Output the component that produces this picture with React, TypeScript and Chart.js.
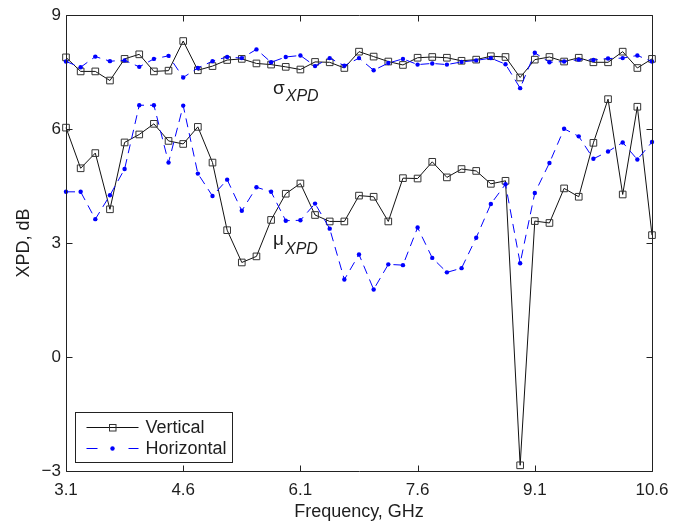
import React, { useEffect, useRef } from "react";
import { Chart, registerables } from "chart.js";

Chart.register(...registerables);

// ---------------- data ----------------
const FREQ_GHZ = [
  3.1, 3.2875, 3.475, 3.6625, 3.85, 4.0375, 4.225, 4.4125, 4.6, 4.7875,
  4.975, 5.1625, 5.35, 5.5375, 5.725, 5.9125, 6.1, 6.2875, 6.475, 6.6625,
  6.85, 7.0375, 7.225, 7.4125, 7.6, 7.7875, 7.975, 8.1625, 8.35, 8.5375,
  8.725, 8.9125, 9.1, 9.2875, 9.475, 9.6625, 9.85, 10.0375, 10.225, 10.4125,
  10.6,
];

const SIGMA_VERTICAL = [
  7.89, 7.52, 7.52, 7.28, 7.85, 7.97, 7.52, 7.54, 8.32, 7.55,
  7.66, 7.82, 7.85, 7.73, 7.7, 7.64, 7.57, 7.77, 7.76, 7.61,
  8.04, 7.91, 7.78, 7.69, 7.88, 7.9, 7.88, 7.8, 7.83, 7.92,
  7.9, 7.36, 7.83, 7.9, 7.78, 7.88, 7.76, 7.76, 8.04, 7.61,
  7.85,
];

const SIGMA_HORIZONTAL = [
  7.78, 7.63, 7.91, 7.79, 7.81, 7.64, 7.85, 7.93, 7.36, 7.61,
  7.79, 7.9, 7.87, 8.1, 7.76, 7.9, 7.94, 7.66, 7.87, 7.67,
  7.87, 7.55, 7.74, 7.85, 7.7, 7.73, 7.7, 7.77, 7.81, 7.87,
  7.71, 7.08, 8.01, 7.76, 7.78, 7.83, 7.82, 7.86, 7.87, 7.94,
  7.78,
];

const MU_VERTICAL = [
  6.04, 4.97, 5.37, 3.89, 5.65, 5.86, 6.14, 5.69, 5.61, 6.06,
  5.12, 3.34, 2.49, 2.65, 3.61, 4.3, 4.57, 3.74, 3.57, 3.57,
  4.25, 4.22, 3.57, 4.71, 4.7, 5.14, 4.73, 4.95, 4.9, 4.56,
  4.64, -2.85, 3.58, 3.53, 4.44, 4.22, 5.64, 6.79, 4.28, 6.59,
  3.21,
];

const MU_HORIZONTAL = [
  4.35, 4.35, 3.63, 4.26, 4.95, 6.63, 6.63, 5.12, 6.62, 4.83,
  4.24, 4.67, 3.85, 4.47, 4.35, 3.59, 3.6, 4.04, 3.38, 2.04,
  2.7, 1.78, 2.44, 2.42, 3.41, 2.61, 2.23, 2.34, 3.14, 4.03,
  4.55, 2.47, 4.32, 5.11, 6.01, 5.81, 5.22, 5.41, 5.65, 5.2,
  5.66,
];

const X_TICKS = [3.1, 4.6, 6.1, 7.6, 9.1, 10.6];
const Y_TICKS = [-3, 0, 3, 6, 9];
const LEGEND_LABELS = ["Vertical", "Horizontal"];
const X_TITLE = "Frequency, GHz";
const Y_TITLE = "XPD, dB";
const SIGMA_LABEL = ["σ", "XPD"];
const MU_LABEL = ["μ", "XPD"];

// ---------------- styles ----------------
const FONT = '"Liberation Sans", Arial, Helvetica, sans-serif';
const TEXT = "#1e1e1e";
const BLACK_LINE = "#111111";
const SQUARE = "#333333";
const BLUE = "#0000ff";
const DASH = [9, 6];

const toXY = (ys: number[]) => FREQ_GHZ.map((f, i) => ({ x: f, y: ys[i] }));

const frame = {
  id: "frame",
  afterDatasetsDraw(chart: any) {
    const { ctx, chartArea: a, scales } = chart;
    const xs = scales.x;
    const ys = scales.y;
    ctx.save();

    // axes box and inward ticks
    ctx.strokeStyle = "#222";
    ctx.lineWidth = 1;
    ctx.setLineDash([]);
    const L = Math.round(a.left) + 0.5;
    const R = Math.round(a.right) + 0.5;
    const T = Math.round(a.top) + 0.5;
    const B = Math.round(a.bottom) + 0.5;
    ctx.beginPath();
    ctx.rect(L, T, R - L, B - T);
    const tl = 6;
    for (const v of X_TICKS) {
      const px = Math.round(xs.getPixelForValue(v)) + 0.5;
      ctx.moveTo(px, B);
      ctx.lineTo(px, B - tl);
      ctx.moveTo(px, T);
      ctx.lineTo(px, T + tl);
    }
    for (const v of Y_TICKS) {
      const py = Math.round(ys.getPixelForValue(v)) + 0.5;
      ctx.moveTo(L, py);
      ctx.lineTo(L + tl, py);
      ctx.moveTo(R, py);
      ctx.lineTo(R - tl, py);
    }
    ctx.stroke();

    // annotations (sigma / mu with italic subscript)
    const drawSub = (label: string[], xv: number, yv: number, dy: number) => {
      const px = xs.getPixelForValue(xv);
      const py = ys.getPixelForValue(yv);
      ctx.fillStyle = TEXT;
      ctx.textAlign = "left";
      ctx.textBaseline = "alphabetic";
      ctx.font = `19px ${FONT}`;
      ctx.fillText(label[0], px, py);
      const w = ctx.measureText(label[0]).width;
      ctx.font = `italic 16px ${FONT}`;
      ctx.fillText(label[1], px + w + 1, py + dy);
    };
    drawSub(SIGMA_LABEL, 5.75, 6.92, 7);
    drawSub(MU_LABEL, 5.75, 2.94, 9);

    // legend
    const bx = Math.round(a.left) + 9.5;
    const bw = 157;
    const bh = 50;
    const by = Math.round(a.bottom) - 59 + 0.5;
    ctx.fillStyle = "#ffffff";
    ctx.fillRect(bx, by, bw, bh);
    ctx.strokeStyle = "#222";
    ctx.lineWidth = 1;
    ctx.strokeRect(bx, by, bw, bh);

    const x0 = bx + 11;
    const x1 = bx + 63;
    const xm = bx + 37;
    const r1 = by + 15;
    const r2 = by + 36;

    // Vertical sample
    ctx.beginPath();
    ctx.strokeStyle = BLACK_LINE;
    ctx.moveTo(x0, r1);
    ctx.lineTo(x1, r1);
    ctx.stroke();
    ctx.strokeStyle = SQUARE;
    ctx.strokeRect(xm - 3, r1 - 3, 6.5, 6.5);

    // Horizontal sample
    ctx.beginPath();
    ctx.strokeStyle = BLUE;
    ctx.setLineDash([11, 31]);
    ctx.moveTo(x0, r2);
    ctx.lineTo(x1, r2);
    ctx.stroke();
    ctx.setLineDash([]);
    ctx.beginPath();
    ctx.fillStyle = BLUE;
    ctx.arc(xm, r2, 2.2, 0, Math.PI * 2);
    ctx.fill();

    ctx.fillStyle = TEXT;
    ctx.font = `18px ${FONT}`;
    ctx.textAlign = "left";
    ctx.textBaseline = "middle";
    ctx.fillText(LEGEND_LABELS[0], bx + 70, r1 + 1);
    ctx.fillText(LEGEND_LABELS[1], bx + 70, r2 + 1);

    ctx.restore();
  },
};

export default function App() {
  const ref = useRef<HTMLCanvasElement | null>(null);

  useEffect(() => {
    if (!ref.current) return;
    const horizontalStyle = {
      borderColor: BLUE,
      borderWidth: 1,
      borderDash: DASH,
      pointStyle: "circle",
      pointRadius: 2.2,
      pointBorderWidth: 0,
      pointBackgroundColor: BLUE,
      pointBorderColor: BLUE,
      tension: 0,
      clip: false as any,
    };
    const verticalStyle = {
      borderColor: BLACK_LINE,
      borderWidth: 1,
      pointStyle: "rect",
      pointRadius: 4.7,
      pointBorderWidth: 1,
      pointBackgroundColor: "rgba(0,0,0,0)",
      pointBorderColor: SQUARE,
      tension: 0,
      clip: false as any,
    };
    const chart = new Chart(ref.current, {
      type: "line",
      data: {
        datasets: [
          { label: "Horizontal σ", data: toXY(SIGMA_HORIZONTAL), ...horizontalStyle },
          { label: "Horizontal μ", data: toXY(MU_HORIZONTAL), ...horizontalStyle },
          { label: "Vertical σ", data: toXY(SIGMA_VERTICAL), ...verticalStyle },
          { label: "Vertical μ", data: toXY(MU_VERTICAL), ...verticalStyle },
        ] as any,
      },
      options: {
        animation: false,
        responsive: false,
        devicePixelRatio: 1,
        events: [],
        layout: { padding: { top: 10, right: 35, left: 0, bottom: 0 } },
        plugins: {
          legend: { display: false },
          tooltip: { enabled: false },
        },
        scales: {
          x: {
            type: "linear",
            min: 3.1,
            max: 10.6,
            afterBuildTicks: (s: any) => {
              s.ticks = X_TICKS.map((v) => ({ value: v }));
            },
            afterFit: (s: any) => {
              s.height = 54;
            },
            grid: { display: false, drawTicks: false },
            border: { display: false },
            ticks: {
              font: { family: FONT, size: 17 },
              color: TEXT,
              padding: 9,
              maxRotation: 0,
              autoSkip: false,
              callback: (v: any) => Number(v).toFixed(1),
            },
            title: {
              display: true,
              text: X_TITLE,
              font: { family: FONT, size: 18 },
              color: TEXT,
              padding: { top: 0, bottom: 2 },
            },
          },
          y: {
            type: "linear",
            min: -3,
            max: 9,
            afterBuildTicks: (s: any) => {
              s.ticks = Y_TICKS.map((v) => ({ value: v }));
            },
            afterFit: (s: any) => {
              s.width = 66;
            },
            grid: { display: false, drawTicks: false },
            border: { display: false },
            ticks: {
              font: { family: FONT, size: 17 },
              color: TEXT,
              padding: 5,
              autoSkip: false,
              callback: (v: any) => (Number(v) < 0 ? "\u2212" + Math.abs(Number(v)) : String(v)),
            },
            title: {
              display: true,
              text: Y_TITLE,
              font: { family: FONT, size: 18 },
              color: TEXT,
              padding: { top: 13, bottom: 0 },
            },
          },
        },
      } as any,
      plugins: [frame],
    });
    return () => chart.destroy();
  }, []);

  return (
    <div style={{ position: "absolute", left: 0, top: 0, width: 687, height: 525, background: "#fff" }}>
      <canvas ref={ref} width={687} height={525} style={{ display: "block", width: 687, height: 525 }} />
    </div>
  );
}
